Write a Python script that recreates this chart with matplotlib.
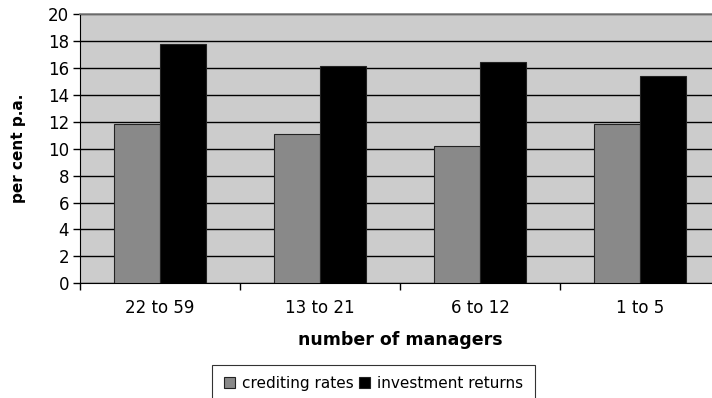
import matplotlib
matplotlib.use("Agg")
import matplotlib.pyplot as plt
import numpy as np

categories = ["22 to 59", "13 to 21", "6 to 12", "1 to 5"]
crediting_rates = [11.8, 11.1, 10.2, 11.8]
investment_returns = [17.8, 16.15, 16.4, 15.4]
y_ticks = [0, 2, 4, 6, 8, 10, 12, 14, 16, 18, 20]

plt.rcParams['font.family'] = ['DejaVu Sans']

fig = plt.figure(figsize=(7.12, 3.98), dpi=100)
ax = fig.add_axes([80/712, 1-283.3/398, 640/712, (283.3-14)/398])
ax.set_facecolor('#cccccc')

x = np.arange(len(categories))
w = 0.2875
ax.bar(x - w/2, crediting_rates, w, color='#898989', edgecolor='#222222', linewidth=0.8,
       label='crediting rates', zorder=3)
ax.bar(x + w/2, investment_returns, w, color='#000000', edgecolor='#222222', linewidth=0.8,
       label='investment returns', zorder=3)

ax.set_xlim(-0.5, len(categories) - 0.5)
ax.set_ylim(0, 20)
ax.set_yticks(y_ticks)
ax.yaxis.grid(True, color='black', linewidth=1.0, zorder=1)
ax.set_axisbelow(True)

ax.set_xticks(x)
ax.set_xticklabels(categories, fontsize=12)
ax.set_xticks(np.arange(len(categories) + 1) - 0.5, minor=True)
ax.tick_params(axis='x', which='major', length=0, pad=11)
ax.tick_params(axis='x', which='minor', length=5, width=1, color='black', direction='out')
ax.tick_params(axis='y', length=5, width=1, direction='out', labelsize=12, pad=3)

for s in ['top', 'right']:
    ax.spines[s].set_color('#808080')
    ax.spines[s].set_linewidth(1.2)
ax.spines['left'].set_color('black')
ax.spines['bottom'].set_color('black')

ax.set_xlabel('number of managers', fontsize=12.5, fontweight='bold')
ax.xaxis.set_label_coords((400-80)/640, -(331-283.3)/269.3)
ax.set_ylabel('per cent p.a.', fontsize=11, fontweight='bold')
ax.yaxis.set_label_coords((26-80)/640, 0.5)

leg = fig.legend(loc='upper center', bbox_to_anchor=(373.5/712, 1-364.7/398), ncol=2,
                 fontsize=11, frameon=True, fancybox=False, edgecolor='black',
                 handlelength=0.7, handleheight=0.7, handletextpad=0.45, columnspacing=0.4,
                 borderpad=0.75, borderaxespad=0)
leg.get_frame().set_linewidth(0.8)

fig.savefig('out.png', dpi=100)
